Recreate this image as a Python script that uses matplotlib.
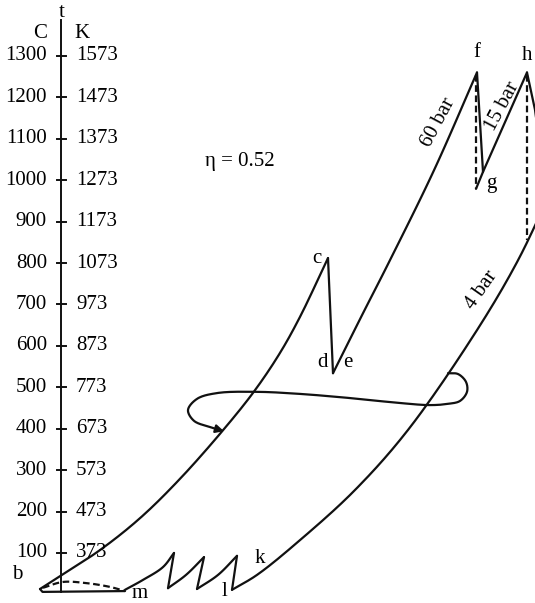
import matplotlib
matplotlib.use("Agg")
import matplotlib.pyplot as plt
import numpy as np

plt.rcParams["font.family"] = ["Liberation Serif", "DejaVu Serif"]

# temperature scale (deg C) with the matching kelvin values
t_ticks = [100, 200, 300, 400, 500, 600, 700, 800, 900, 1000, 1100, 1200, 1300]
k_ticks = [373, 473, 573, 673, 773, 873, 973, 1073, 1173, 1273, 1373, 1473, 1573]

# entropy (arbitrary units) / temperature (deg C) of each process
heat_60_s = [-0.215, 0.005, 0.385, 0.785, 1.185, 1.635, 1.935, 2.185, 2.385, 2.665]
heat_60_t = [13, 47, 107, 184, 279, 402, 493, 583, 670, 812]
cd_s = [2.665, 2.715]
cd_t = [812, 534]
ef_s = [2.715, 3.005, 3.285, 3.725, 4.155]
ef_t = [534, 674, 807, 1024, 1260]
fg_s = [4.155, 4.215]
fg_t = [1260, 1020]
fg_dash_s = [4.145, 4.145, 4.215]
fg_dash_t = [1255, 979, 1020]
gh_s = [4.215, 4.655]
gh_t = [1020, 1260]
hi_s = [4.655, 4.735, 4.855]
hi_t = [1260, 1170, 951]
hi_dash_s = [4.655, 4.655]
hi_dash_t = [1255, 856]
low_4_s = [1.705, 1.955, 2.385, 2.935, 3.465, 4.155, 4.555, 4.855]
low_4_t = [11, 47, 131, 252, 397, 638, 802, 952]
comp_s = [0.635, 0.815, 1.015, 1.125, 1.065, 1.245, 1.425, 1.355, 1.565, 1.755, 1.705]
comp_t = [11, 35, 66, 100, 15, 47, 90, 13, 47, 93, 11]
bm_s = [-0.215, -0.19, 0.635]
bm_t = [13, 6, 8]
bm_dash_s = [-0.185, 0.015, 0.255, 0.485, 0.635]
bm_dash_t = [16, 30, 27, 18, 8]
regen_s = [3.865, 3.965, 4.045, 4.055, 3.985, 3.865, 3.685, 3.385, 2.885, 2.385,
           1.955, 1.555, 1.355, 1.265, 1.325, 1.485, 1.625]
regen_t = [534, 532, 513, 489, 467, 460, 457, 462, 474, 484,
           489, 486, 472, 445, 419, 404, 394]

# state point letters
points = {"b": (-0.445, 47), "m": (0.785, 2), "l": (1.635, 8), "k": (1.985, 86),
          "c": (2.555, 812), "d": (2.605, 561), "e": (2.865, 559), "f": (4.155, 1309),
          "g": (4.295, 993), "h": (4.655, 1302)}

# rough pixel size of one unit on each axis, used to space the spline knots
SX, ST = 100.0, 0.4142


def smooth(xs, ys, n=20):
    # centripetal catmull-rom through the given points, only for drawing
    p = np.column_stack([np.asarray(xs) * SX, np.asarray(ys) * ST]).astype(float)
    p = np.vstack([2 * p[0] - p[1], p, 2 * p[-1] - p[-2]])
    out = []
    for i in range(1, len(p) - 2):
        p0, p1, p2, p3 = p[i - 1], p[i], p[i + 1], p[i + 2]
        t0 = 0.0
        t1 = t0 + np.linalg.norm(p1 - p0) ** 0.5
        t2 = t1 + np.linalg.norm(p2 - p1) ** 0.5
        t3 = t2 + np.linalg.norm(p3 - p2) ** 0.5
        t = np.linspace(t1, t2, n, endpoint=False)[:, None]
        a1 = (t1 - t) / (t1 - t0) * p0 + (t - t0) / (t1 - t0) * p1
        a2 = (t2 - t) / (t2 - t1) * p1 + (t - t1) / (t2 - t1) * p2
        a3 = (t3 - t) / (t3 - t2) * p2 + (t - t2) / (t3 - t2) * p3
        b1 = (t2 - t) / (t2 - t0) * a1 + (t - t0) / (t2 - t0) * a2
        b2 = (t3 - t) / (t3 - t1) * a2 + (t - t1) / (t3 - t1) * a3
        out.append((t2 - t) / (t2 - t1) * b1 + (t - t1) / (t2 - t1) * b2)
    out.append(p[-2][None, :])
    out = np.vstack(out)
    return out[:, 0] / SX, out[:, 1] / ST


fig = plt.figure(figsize=(5.35, 6.03), dpi=100)
ax = fig.add_axes([0, 0, 1, 1])
ax.set_xlim(-0.615, 4.735)
ax.set_ylim(-20.8, 1435)
ax.axis("off")

ink = "#111111"
lw = 1.6
solid = dict(color=ink, lw=lw, solid_joinstyle="round", solid_capstyle="round")
dashed = dict(color=ink, lw=lw, ls=(0, (3, 1.6)))

# temperature axis
ax.plot([0, 0], [6, 1387], color=ink, lw=1.4)
for tc, tk in zip(t_ticks, k_ticks):
    ax.plot([-0.04, 0.04], [tc, tc], color=ink, lw=1.4)
    ax.text(-0.145, tc, str(tc), ha="right", va="center", fontsize=15)
    ax.text(0.145, tc, str(tk), ha="left", va="center", fontsize=15)
ax.text(0, 1406, "t", ha="center", va="center", fontsize=15)
ax.text(-0.215, 1355, "C", ha="center", va="center", fontsize=15)
ax.text(0.205, 1355, "K", ha="center", va="center", fontsize=15)

# curved processes
for xs, ys in [(heat_60_s, heat_60_t), (ef_s, ef_t), (low_4_s, low_4_t)]:
    ax.plot(*smooth(xs, ys), **solid)
ax.plot(*smooth(bm_dash_s, bm_dash_t), **dashed)

# straight processes
for xs, ys in [(cd_s, cd_t), (fg_s, fg_t), (gh_s, gh_t), (hi_s, hi_t), (bm_s, bm_t)]:
    ax.plot(xs, ys, **solid)
ax.plot(fg_dash_s[:2], fg_dash_t[:2], **dashed)
ax.plot(fg_dash_s[1:], fg_dash_t[1:], **solid)
ax.plot(hi_dash_s, hi_dash_t, **dashed)

# intercooled compression: curved rises, straight cooling drops
peaks = [3, 6, 9]
start = 0
for pk in peaks:
    ax.plot(*smooth(comp_s[start:pk + 1], comp_t[start:pk + 1]), **solid)
    ax.plot(comp_s[pk:pk + 2], comp_t[pk:pk + 2], **solid)
    start = pk + 1

# regenerator path with arrow
rx, ry = smooth(regen_s, regen_t)
ax.plot(rx[:-8], ry[:-8], **solid)
ax.annotate("", xy=(rx[-1], ry[-1]), xytext=(rx[-9], ry[-9]),
            arrowprops=dict(arrowstyle="-|>", color=ink, lw=lw,
                            mutation_scale=12, shrinkA=0, shrinkB=0))

for name, (x, y) in points.items():
    ax.text(x, y, name, ha="center", va="center", fontsize=15)

ax.text(1.785, 1045, "η = 0.52", ha="center", va="center", fontsize=15)
ax.text(3.765, 1138, "60 bar", ha="center", va="center", fontsize=15, rotation=62)
ax.text(4.405, 1177, "15 bar", ha="center", va="center", fontsize=15, rotation=62)
ax.text(4.205, 735, "4 bar", ha="center", va="center", fontsize=15, rotation=55)

fig.savefig("out.png", dpi=100)
